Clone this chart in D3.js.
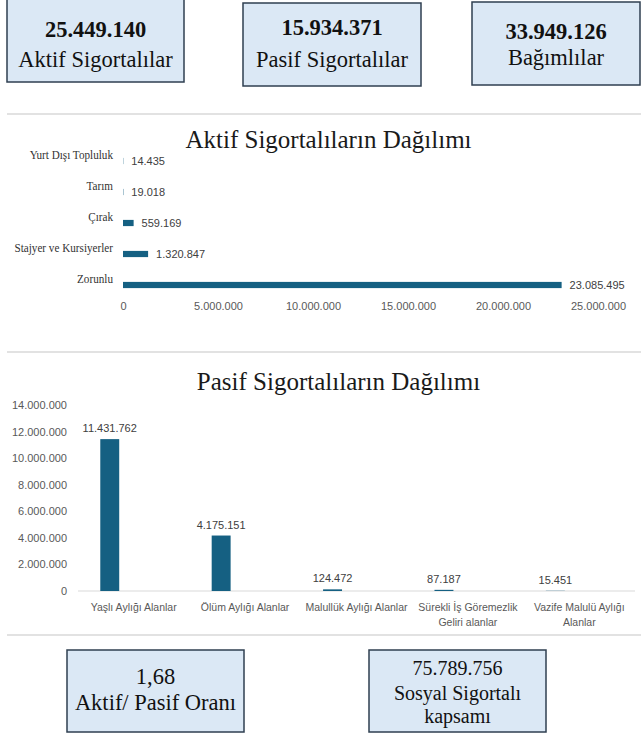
<!DOCTYPE html>
<html>
<head>
<meta charset="utf-8">
<script src="https://cdn.jsdelivr.net/npm/d3@7"></script>
<style>
  body { margin: 0; background: #fff; }
</style>
</head>
<body>
<div id="chart"></div>
<script>
// ozet kutulari (ust ve alt)
const topValues = ["25.449.140", "15.934.371", "33.949.126"];
const topLabels = ["Aktif Sigortalılar", "Pasif Sigortalılar", "Bağımlılar"];
const bottomLines = [["1,68", "Aktif/ Pasif Oranı"], ["75.789.756", "Sosyal Sigortalı", "kapsamı"]];

// aktif sigortalilar (yatay bar)
const aktifCategories = ["Yurt Dışı Topluluk", "Tarım", "Çırak", "Stajyer ve Kursiyerler", "Zorunlu"];
const aktifValues = [14435, 19018, 559169, 1320847, 23085495];
const aktifTicks = [0, 5000000, 10000000, 15000000, 20000000, 25000000];

// pasif sigortalilar (dikey bar)
const pasifCategories = ["Yaşlı Aylığı Alanlar", "Ölüm Aylığı Alanlar", "Malullük Aylığı Alanlar", "Sürekli İş Göremezlik Geliri alanlar", "Vazife Malulü Aylığı Alanlar"];
const pasifValues = [11431762, 4175151, 124472, 87187, 15451];
const pasifTicks = [0, 2000000, 4000000, 6000000, 8000000, 10000000, 12000000, 14000000];

const W = 641, H = 734;
const barColor = "#156082";
const serif = "Liberation Serif";
const sans = "Liberation Sans";
const fmt = d3.formatLocale({decimal: ",", thousands: ".", grouping: [3], currency: ["", ""]}).format(",d");

const svg = d3.select("#chart")
    .append("svg")
    .attr("width", W)
    .attr("height", H);

// ---- kutular ----
const topBoxes = [
    {x: 7, y: -1, w: 177, h: 83, base: [37, 67]},
    {x: 243, y: 3, w: 178, h: 83, base: [35, 67]},
    {x: 472, y: 2, w: 168, h: 83, base: [39, 65]}
];
topBoxes.forEach((b, i) => {
    svg.append("rect")
        .attr("x", b.x).attr("y", b.y)
        .attr("width", b.w).attr("height", b.h)
        .attr("fill", "#dbe8f5")
        .attr("stroke", "#2f3f50")
        .attr("stroke-width", 1.5);
    svg.append("text")
        .attr("x", b.x + b.w / 2)
        .attr("y", b.base[0])
        .attr("text-anchor", "middle")
        .style("font-family", serif)
        .style("font-weight", "bold")
        .style("font-size", "22.5px")
        .attr("fill", "#111")
        .text(topValues[i]);
    svg.append("text")
        .attr("x", b.x + b.w / 2)
        .attr("y", b.base[1])
        .attr("text-anchor", "middle")
        .style("font-family", serif)
        .style("font-size", "22.5px")
        .attr("fill", "#111")
        .text(topLabels[i]);
});

const bottomBoxes = [
    {x: 67, y: 650, w: 177, h: 82, size: 22.5, base: [684, 710]},
    {x: 369, y: 650, w: 177, h: 82, size: 20, base: [675, 700, 723]}
];
bottomBoxes.forEach((b, i) => {
    svg.append("rect")
        .attr("x", b.x).attr("y", b.y)
        .attr("width", b.w).attr("height", b.h)
        .attr("fill", "#dbe8f5")
        .attr("stroke", "#2f3f50")
        .attr("stroke-width", 1.5);
    bottomLines[i].forEach((t, j) => {
        svg.append("text")
            .attr("x", b.x + b.w / 2)
            .attr("y", b.base[j])
            .attr("text-anchor", "middle")
            .style("font-family", serif)
            .style("font-size", b.size + "px")
            .attr("fill", "#111")
            .text(t);
    });
});

// ayirici cizgiler
[114, 352, 635].forEach(y => {
    svg.append("line")
        .attr("x1", 7).attr("x2", W)
        .attr("y1", y).attr("y2", y)
        .attr("stroke", "#d9d9d9")
        .attr("stroke-width", 1.5);
});

// ---- Aktif Sigortalilarin Dagilimi ----
const g1 = svg.append("g");

g1.append("text")
    .attr("x", 328.5)
    .attr("y", 148)
    .attr("text-anchor", "middle")
    .style("font-family", serif)
    .style("font-size", "25px")
    .attr("fill", "#1a1a1a")
    .text("Aktif Sigortalıların Dağılımı");

const x1 = d3.scaleLinear()
    .domain([0, 25000000])
    .range([123, 598]);

const y1 = d3.scaleBand()
    .domain(aktifCategories)
    .range([145.5, 300.5])
    .paddingInner(0.8)
    .paddingOuter(0.4);

g1.append("g")
    .attr("transform", "translate(0, 310)")
    .call(d3.axisBottom(x1).tickValues(aktifTicks).tickFormat(fmt).tickSize(0).tickPadding(0))
    .call(g => g.select(".domain").remove())
    .selectAll("text")
    .attr("dy", "0")
    .style("font-family", sans)
    .style("font-size", "11px")
    .attr("fill", "#595959");

g1.append("g")
    .attr("transform", "translate(113, -6)")
    .call(d3.axisLeft(y1).tickSize(0).tickPadding(0))
    .call(g => g.select(".domain").remove())
    .selectAll("text")
    .style("font-family", serif)
    .style("font-size", "12px")
    .attr("fill", "#333")
    .attr("textLength", function() { return this.getComputedTextLength() * 0.93; })
    .attr("lengthAdjust", "spacingAndGlyphs");

g1.selectAll("rect.bar")
    .data(aktifValues)
    .enter()
    .append("rect")
    .attr("class", "bar")
    .attr("x", x1(0))
    .attr("y", (d, i) => y1(aktifCategories[i]))
    .attr("width", d => x1(d) - x1(0))
    .attr("height", y1.bandwidth())
    .attr("fill", barColor);

g1.selectAll("text.val")
    .data(aktifValues)
    .enter()
    .append("text")
    .attr("class", "val")
    .attr("x", d => x1(d) + 8)
    .attr("y", (d, i) => y1(aktifCategories[i]) + y1.bandwidth() / 2)
    .attr("dy", "0.35em")
    .style("font-family", sans)
    .style("font-size", "11px")
    .attr("fill", "#404040")
    .text(d => fmt(d));

// ---- Pasif Sigortalilarin Dagilimi ----
const g2 = svg.append("g");

g2.append("text")
    .attr("x", 338.5)
    .attr("y", 390)
    .attr("text-anchor", "middle")
    .style("font-family", serif)
    .style("font-size", "25px")
    .attr("fill", "#1a1a1a")
    .text("Pasif Sigortalıların Dağılımı");

const x2 = d3.scaleBand()
    .domain(pasifCategories)
    .range([78, 635])
    .padding(0);

const y2 = d3.scaleLinear()
    .domain([0, 14000000])
    .range([591, 405]);

g2.append("g")
    .attr("transform", "translate(67, 0)")
    .call(d3.axisLeft(y2).tickValues(pasifTicks).tickFormat(fmt).tickSize(0).tickPadding(0))
    .call(g => g.select(".domain").remove())
    .selectAll("text")
    .style("font-family", sans)
    .style("font-size", "11px")
    .attr("fill", "#595959");

g2.append("line")
    .attr("x1", 78).attr("x2", 635)
    .attr("y1", y2(0)).attr("y2", y2(0))
    .attr("stroke", "#d9d9d9")
    .attr("stroke-width", 1);

const barOff = x2.bandwidth() * 0.2, barW = x2.bandwidth() * 0.17;

g2.selectAll("rect.bar")
    .data(pasifValues)
    .enter()
    .append("rect")
    .attr("class", "bar")
    .attr("x", (d, i) => x2(pasifCategories[i]) + barOff)
    .attr("y", d => y2(d))
    .attr("width", barW)
    .attr("height", d => y2(0) - y2(d))
    .attr("fill", barColor);

g2.selectAll("text.val")
    .data(pasifValues)
    .enter()
    .append("text")
    .attr("class", "val")
    .attr("x", (d, i) => x2(pasifCategories[i]) + barOff + barW / 2)
    .attr("y", d => y2(d) - 7)
    .attr("text-anchor", "middle")
    .style("font-family", sans)
    .style("font-size", "11px")
    .attr("fill", "#404040")
    .text(d => fmt(d));

const xAx = g2.append("g")
    .attr("transform", `translate(0, ${y2(0)})`)
    .call(d3.axisBottom(x2).tickSize(0).tickPadding(0))
    .call(g => g.select(".domain").remove());

xAx.selectAll("text")
    .style("font-family", sans)
    .style("font-size", "10.5px")
    .attr("fill", "#595959")
    .attr("dy", "0")
    .attr("y", 20)
    .call(wrap, x2.bandwidth());

// uzun etiketleri iki satira bol
function wrap(texts, width) {
    texts.each(function() {
        const text = d3.select(this);
        const words = text.text().split(/\s+/);
        const y = text.attr("y");
        let line = [];
        let lineNo = 0;
        let tspan = text.text(null).append("tspan").attr("x", 0).attr("y", y);
        words.forEach(w => {
            line.push(w);
            tspan.text(line.join(" "));
            if (tspan.node().getComputedTextLength() > width && line.length > 1) {
                line.pop();
                tspan.text(line.join(" "));
                line = [w];
                lineNo++;
                tspan = text.append("tspan").attr("x", 0).attr("y", +y + lineNo * 15).text(w);
            }
        });
    });
}
</script>
</body>
</html>
